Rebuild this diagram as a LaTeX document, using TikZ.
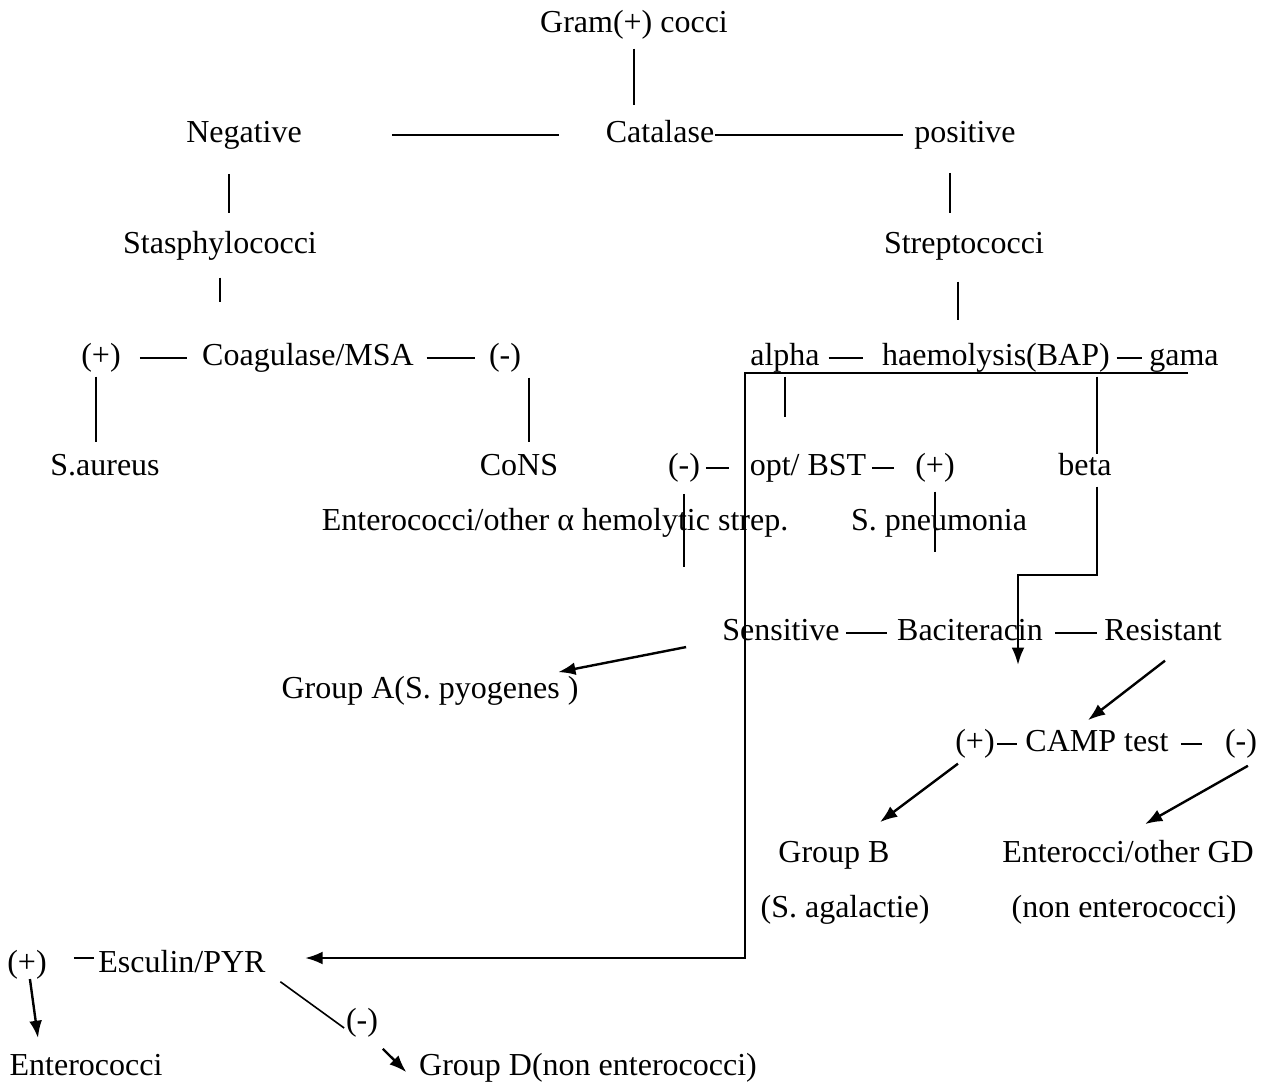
\documentclass[tikz,border=0pt]{standalone}
\usepackage{fontspec}
\setmainfont{Liberation Serif}
\usetikzlibrary{arrows.meta}

\begin{document}
\begin{tikzpicture}[x=0.375pt,y=-0.375pt,>={Latex[length=6.5pt,width=4.8pt]},line width=0.6pt]
  \tikzstyle{txt}=[inner sep=0pt,text height=8pt,text depth=2pt,yshift=-1.1pt,
                   font=\fontsize{12}{14}\selectfont]
  \tikzstyle{arr}=[->,line width=0.9pt]
  \useasboundingbox (0,0) rectangle (1267,1090);

  % catalase level
  \node[txt] (gram)  at (634,22)   {Gram(+) cocci};
  \node[txt] (neg)   at (244,132)  {Negative};
  \node[txt] (cat)   at (660,132)  {Catalase};
  \node[txt] (pos)   at (965,132)  {positive};
  \node[txt] (staph) at (220,243)  {Stasphylococci};
  \node[txt] (strep) at (964,243)  {Streptococci};

  % staphylococci branch
  \node[txt] (cp)    at (101,355)  {(+)};
  \node[txt] (coag)  at (308,355)  {Coagulase/MSA};
  \node[txt] (cm)    at (505,355)  {(-)};
  \node[txt] (saur)  at (105,465)  {S.aureus};
  \node[txt] (cons)  at (519,465)  {CoNS};

  % streptococci branch
  \node[txt] (alph)  at (785,355)  {alpha};
  \node[txt] (haem)  at (996,355)  {haemolysis(BAP)};
  \node[txt] (gam)   at (1184,355) {gama};
  \node[txt] (om)    at (684,465)  {(-)};
  \node[txt] (opt)   at (808,465)  {opt/ BST};
  \node[txt] (op)    at (935,465)  {(+)};
  \node[txt] (bet)   at (1085,465) {beta};
  \node[txt] (entA)  at (555,520)  {Enterococci/other α hemolytic strep.};
  \node[txt] (spn)   at (939,520)  {S. pneumonia};
  \node[txt] (sens)  at (781,630)  {Sensitive};
  \node[txt] (bac)   at (970,630)  {Baciteracin};
  \node[txt] (res)   at (1163,630) {Resistant};
  \node[txt] (grpA)  at (430,688)  {Group A(S. pyogenes )};
  \node[txt] (cap)   at (975,741)  {(+)};
  \node[txt] (camp)  at (1097,741) {CAMP test};
  \node[txt] (cam)   at (1241,741) {(-)};
  \node[txt] (grpB)  at (834,852)  {Group B};
  \node[txt] (agal)  at (845,907)  {(S. agalactie)};
  \node[txt] (entGD) at (1128,852) {Enterocci/other GD};
  \node[txt] (nonE)  at (1124,907) {(non enterococci)};
  \node[txt] (ep)    at (27,962)   {(+)};
  \node[txt] (esc)   at (182,962)  {Esculin/PYR};
  \node[txt] (em)    at (362,1020) {(-)};
  \node[txt] (ent)   at (86,1065)  {Enterococci};
  \node[txt] (grpD)  at (588,1065) {Group D(non enterococci)};

  \coordinate (hr) at (1188,373);
  \coordinate (hl) at (745,373);
  \coordinate (bk) at (1018,575);
  \coordinate (bt) at (1018,665);

  % plain links
  \draw[shorten <=3.6pt,shorten >=5.9pt] (gram.south) -- (gram.south |- cat.north);
  \draw[shorten <=33.5pt,shorten >=17.2pt] (neg) -- (cat);
  \draw[shorten >=3.9pt] (cat) -- (pos);
  \draw[shorten <=9.3pt,shorten >=7pt] ([xshift=-5.6pt]neg.south) -- ([xshift=-5.6pt]neg.south |- staph.north);
  \draw[shorten <=8.9pt,shorten >=7pt] ([xshift=-5.6pt]pos.south) -- ([xshift=-5.6pt]pos.south |- strep.north);
  \draw[shorten <=6.6pt,shorten >=15.6pt] (staph.south) -- (staph.south |- coag.north);
  \draw[shorten <=8.1pt,shorten >=8.9pt] ([xshift=-2.25pt]strep.south) -- ([xshift=-2.25pt]strep.south |- haem.north);
  \draw[shorten <=6.9pt,shorten >=5.25pt] (cp) -- (coag);
  \draw[shorten <=4.5pt,shorten >=4.9pt] (coag) -- (cm);
  \draw[shorten <=1.75pt,shorten >=4.4pt] ([xshift=-1.9pt]cp.south) -- ([xshift=-1.9pt]cp.south |- saur.north);
  \draw[shorten <=2.1pt,shorten >=4.4pt] ([xshift=9pt]cm.south) -- ([xshift=9pt]cm.south |- cons.north);
  \draw[shorten <=3.1pt,shorten >=6.8pt] (alph) -- (haem);
  \draw[shorten <=2.3pt,shorten >=2.4pt] (haem) -- (gam);
  \draw[shorten <=1.75pt,shorten >=13.8pt] (alph.south) -- (alph.south |- opt.north);
  \draw[shorten <=1.75pt] ([xshift=4.5pt]bet.north |- haem.south) -- ([xshift=4.5pt]bet.north);
  \draw[shorten <=1.9pt,shorten >=7.4pt] (om) -- (opt);
  \draw[shorten <=1.8pt,shorten >=7.7pt] (opt) -- (op);
  \draw[shorten <=4.4pt,shorten >=19.4pt] (om.south) -- (om.south |- sens.north);
  \draw[shorten <=3.6pt,shorten >=25pt] (op.south) -- (op.south |- bac.north);
  \draw[shorten <=2.1pt,shorten >=3.6pt] (sens) -- (bac);
  \draw[shorten <=4.35pt,shorten >=2.4pt] (bac) -- (res);
  \draw[shorten <=0.6pt,shorten >=2.8pt] (cap) -- (camp);
  \draw[shorten <=4.3pt,shorten >=8.25pt] (camp) -- (cam);
  \draw[shorten <=9.9pt,shorten >=1.3pt] ([yshift=2.6pt]ep.east) -- ([yshift=2.6pt]esc.west);
  \draw ([xshift=5.25pt,yshift=-1pt]esc.south east) -- ([xshift=-0.4pt,yshift=-1.9pt]em.west);

  % arrows
  \draw[->,line width=0.75pt,shorten >=14.6pt] (hr) -- (hl) |- ([yshift=2.6pt]esc.east);
  \draw[arr,shorten <=1.75pt] ([xshift=4.5pt]bet.south) |- (bk) -- (bt);
  \draw[arr] ([xshift=-13.3pt]sens.south west) -- ([xshift=-7.9pt,yshift=1.75pt]grpA.north east);
  \draw[arr] ([xshift=0.75pt,yshift=-5.1pt]res.south) -- ([xshift=-3.4pt,yshift=3.6pt]camp.north);
  \draw[arr] ([xshift=-6.4pt,yshift=-2.1pt]cap.south) -- ([xshift=17.25pt,yshift=7pt]grpB.north);
  \draw[arr] ([xshift=2.6pt,yshift=-2.9pt]cam.south) -- ([xshift=6.4pt,yshift=6.25pt]entGD.north);
  \draw[arr] ([xshift=1.1pt]ep.south) -- ([xshift=-18pt,yshift=5.9pt]ent.north);
  \draw[arr] ([xshift=1.5pt,yshift=-4.4pt]em.south east) -- ([xshift=-4.5pt,yshift=-6.9pt]grpD.north west);
\end{tikzpicture}
\end{document}
